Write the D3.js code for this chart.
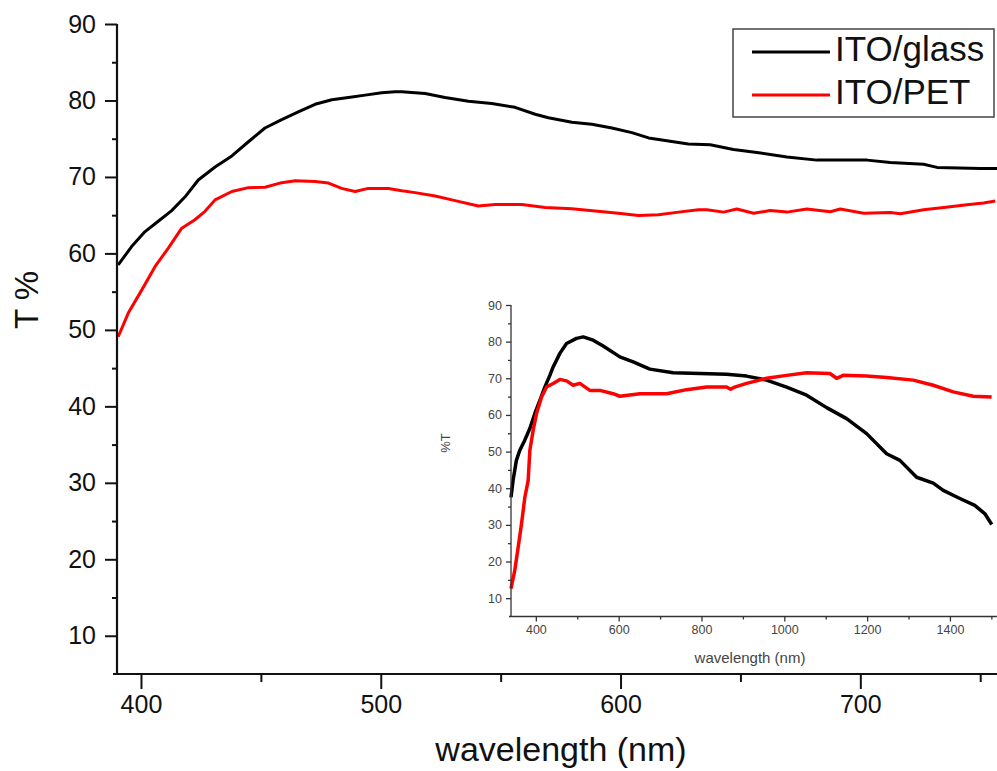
<!DOCTYPE html>
<html>
<head>
<meta charset="utf-8">
<script src="https://cdn.jsdelivr.net/npm/d3@7"></script>
<style>
  html, body { margin: 0; padding: 0; background: #fff; }
  svg { display: block; font-family: "Liberation Sans", Arial, sans-serif; }
</style>
</head>
<body>
<svg id="chart" width="997" height="771"></svg>
<script>
// ---------- Main chart data ----------
const seriesNames = ["ITO/glass", "ITO/PET"];
const seriesColors = ["#000000", "#ff0000"];

const glassWl = [390.5,396.1,401.7,407.2,412.8,418.4,423.9,430.9,437.9,444.8,451.7,458.7,465.6,472.6,479.6,486.5,493.5,500.4,506,508.8,518.5,526.8,536.6,546.3,556,564.4,569.9,579.7,588,596.4,604.7,611.7,620,628.3,637.4,647.1,656.9,669.4,681.9,702.8,712.5,726.4,732,750.1,757];
const glassT  = [58.5,60.9,62.85,64.2,65.6,67.4,69.6,71.3,72.75,74.6,76.4,77.5,78.5,79.5,80.1,80.4,80.7,81.0,81.15,81.15,80.9,80.4,79.9,79.6,79.1,78.2,77.75,77.15,76.9,76.4,75.8,75.1,74.7,74.3,74.2,73.6,73.2,72.6,72.2,72.2,71.9,71.65,71.25,71.1,71.1];

const petWl = [390.5,394.7,400.3,405.9,411.4,417,422.5,426.7,430.9,437.9,444.8,451.7,458.7,464.3,472.6,478.2,483.7,489.3,494.8,503.2,508.8,514.3,522.7,531,540.7,547.7,558.8,568.6,579.7,589.4,599.1,607.5,615.8,624.2,632.5,636,643,648.5,655.5,662.4,669.4,677.7,687.5,691.6,701.4,712.5,716.7,726.4,734.8,744.5,751.4,756.3];
const petT  = [49.1,52.2,55.2,58.3,60.7,63.3,64.4,65.5,67.0,68.1,68.6,68.65,69.25,69.5,69.4,69.2,68.5,68.1,68.5,68.5,68.2,67.95,67.5,66.9,66.2,66.4,66.4,66.0,65.85,65.55,65.25,64.95,65.05,65.4,65.7,65.7,65.4,65.8,65.25,65.6,65.4,65.8,65.45,65.8,65.25,65.35,65.2,65.7,66.0,66.35,66.6,66.85];

const mainXTicks = [400, 500, 600, 700];
const mainXMinor = [450, 550, 650, 750];
const mainYTicks = [10, 20, 30, 40, 50, 60, 70, 80, 90];
const mainYMinor = [15, 25, 35, 45, 55, 65, 75, 85];

// ---------- Inset data ----------
const inGlassWl = [340,345,353,361,373,385.5,397.6,409.7,421.7,433.8,441.8,458,474.1,498.3,514.3,538.4,562.6,602.9,635,675.4,731.6,796.1,860.6,908.9,957.2,1005.6,1053.9,1102.2,1150.5,1198.8,1247.1,1279.2,1319.6,1359.7,1383.8,1424,1460,1484,1501];
const inGlassT  = [37.5,42.1,47.6,50.3,53.05,56.3,60.4,64.0,67.6,70.8,73.1,76.8,79.5,80.9,81.3,80.4,78.8,75.85,74.5,72.5,71.5,71.3,71.1,70.6,69.5,67.6,65.4,62.0,59.0,54.9,49.4,47.6,43.0,41.4,39.4,37.2,35.3,33.1,30.1];

const inPetWl = [340,349,357.3,365.4,373.4,381.4,385.5,393.5,401.7,413.8,425.8,441.8,458,474.1,490.1,506.3,530.4,554.6,586.7,602.9,651.2,715.7,764,812.3,860.6,870,880,908.9,957.2,1005.6,1053.9,1110.1,1126.3,1142.3,1198.8,1247.1,1311.4,1359.7,1408,1456.3,1500.7];
const inPetT  = [12.6,17.5,23.9,30.3,37.5,42.1,50.3,55.8,60.4,64.9,67.6,68.6,69.7,69.3,68.1,68.6,66.7,66.7,65.8,65.1,65.8,65.8,66.9,67.6,67.6,67.0,67.6,68.6,70.0,70.8,71.5,71.3,70.0,70.8,70.6,70.2,69.5,68.1,66.3,65.1,64.9];

const inXTicks = [400, 600, 800, 1000, 1200, 1400];
const inXMinor = [500, 700, 900, 1100, 1300, 1500];
const inYTicks = [10, 20, 30, 40, 50, 60, 70, 80, 90];
const inYMinor = [15, 25, 35, 45, 55, 65, 75, 85];

const svg = d3.select("#chart");

// ---------- Main chart ----------
const x = d3.scaleLinear().domain([390, 757]).range([117, 997]);
const y = d3.scaleLinear().domain([5, 90]).range([674, 24]);

const gMain = svg.append("g");

// curves
const mainSeries = [
  { wl: glassWl, t: glassT, color: seriesColors[0] },
  { wl: petWl, t: petT, color: seriesColors[1] }
];
const line = d3.line().x(d => x(d[0])).y(d => y(d[1]));
mainSeries.forEach(s => {
  gMain.append("path")
    .datum(s.wl.map((w, i) => [w, s.t[i]]))
    .attr("d", line)
    .attr("fill", "none")
    .attr("stroke", s.color)
    .attr("stroke-width", 3)
    .attr("stroke-linejoin", "round");
});

// axes
const xAxis = d3.axisBottom(x).tickValues(mainXTicks).tickSize(15).tickPadding(6).tickFormat(d3.format("d"));
const gx = gMain.append("g").attr("transform", "translate(0,674)").call(xAxis);
gx.select(".domain").attr("d", "M113,0H997").attr("stroke-width", 2.2).attr("stroke", "#111");
gx.selectAll(".tick line").attr("stroke-width", 2).attr("stroke", "#111");
gx.selectAll(".tick text").attr("font-size", 25).attr("fill", "#111");
const gxm = gMain.append("g").attr("transform", "translate(0,674)")
  .call(d3.axisBottom(x).tickValues(mainXMinor).tickSize(8).tickFormat(""));
gxm.select(".domain").remove();
gxm.selectAll(".tick line").attr("stroke-width", 2).attr("stroke", "#111");

const yAxis = d3.axisLeft(y).tickValues(mainYTicks).tickSize(12).tickPadding(9).tickFormat(d3.format("d"));
const gy = gMain.append("g").attr("transform", "translate(117,0)").call(yAxis);
gy.select(".domain").attr("d", "M0,24V675").attr("stroke-width", 2.2).attr("stroke", "#111");
gy.selectAll(".tick line").attr("stroke-width", 2).attr("stroke", "#111");
gy.selectAll(".tick text").attr("font-size", 25).attr("fill", "#111");
const gym = gMain.append("g").attr("transform", "translate(117,0)")
  .call(d3.axisLeft(y).tickValues(mainYMinor).tickSize(5).tickFormat(""));
gym.select(".domain").remove();
gym.selectAll(".tick line").attr("stroke-width", 2).attr("stroke", "#111");

// axis titles
svg.append("text").attr("x", 561).attr("y", 761).attr("text-anchor", "middle")
  .attr("font-size", 34).attr("fill", "#111").text("wavelength (nm)");
svg.append("text").attr("transform", "translate(38,300) rotate(-90)").attr("text-anchor", "middle")
  .attr("font-size", 33).attr("fill", "#111").text("T %");

// legend
const lg = svg.append("g");
lg.append("rect").attr("x", 733).attr("y", 29).attr("width", 261).attr("height", 88)
  .attr("fill", "#fff").attr("stroke", "#444").attr("stroke-width", 1.5);
seriesNames.forEach((name, i) => {
  const ly = 52 + i * 43;
  lg.append("line").attr("x1", 752).attr("x2", 830).attr("y1", ly).attr("y2", ly)
    .attr("stroke", seriesColors[i]).attr("stroke-width", 3);
  lg.append("text").attr("x", 835).attr("y", ly + 9).attr("font-size", 35).attr("fill", "#111").text(name);
});

// ---------- Inset ----------
const xi = d3.scaleLinear().domain([340, 1504]).range([511, 993]);
const yi = d3.scaleLinear().domain([5, 90]).range([616.5, 305]);
const gIn = svg.append("g");
const lineIn = d3.line().x(d => xi(d[0])).y(d => yi(d[1]));
const insetSeries = [
  { wl: inGlassWl, t: inGlassT, color: seriesColors[0] },
  { wl: inPetWl, t: inPetT, color: seriesColors[1] }
];
insetSeries.forEach(s => {
  gIn.append("path")
    .datum(s.wl.map((w, i) => [w, s.t[i]]))
    .attr("d", lineIn)
    .attr("fill", "none")
    .attr("stroke", s.color)
    .attr("stroke-width", 3.5)
    .attr("stroke-linejoin", "round");
});

const gxi = gIn.append("g").attr("transform", "translate(0,616.5)")
  .call(d3.axisBottom(xi).tickValues(inXTicks).tickSize(5).tickPadding(4).tickFormat(d3.format("d")));
gxi.select(".domain").attr("d", "M509,0H997").attr("stroke-width", 1.3).attr("stroke", "#333");
gxi.selectAll(".tick line").attr("stroke", "#333").attr("stroke-width", 1.3);
gxi.selectAll(".tick text").attr("font-size", 12.5).attr("fill", "#444");
const gxim = gIn.append("g").attr("transform", "translate(0,616.5)")
  .call(d3.axisBottom(xi).tickValues(inXMinor).tickSize(3).tickFormat(""));
gxim.select(".domain").remove();
gxim.selectAll(".tick line").attr("stroke", "#333").attr("stroke-width", 1.3);

const gyi = gIn.append("g").attr("transform", "translate(511,0)")
  .call(d3.axisLeft(yi).tickValues(inYTicks).tickSize(5).tickPadding(4).tickFormat(d3.format("d")));
gyi.select(".domain").attr("d", "M0,305V617").attr("stroke-width", 1.3).attr("stroke", "#333");
gyi.selectAll(".tick line").attr("stroke", "#333").attr("stroke-width", 1.3);
gyi.selectAll(".tick text").attr("font-size", 12.5).attr("fill", "#444");
const gyim = gIn.append("g").attr("transform", "translate(511,0)")
  .call(d3.axisLeft(yi).tickValues(inYMinor).tickSize(3).tickFormat(""));
gyim.select(".domain").remove();
gyim.selectAll(".tick line").attr("stroke", "#333").attr("stroke-width", 1.3);

svg.append("text").attr("x", 750).attr("y", 663).attr("text-anchor", "middle")
  .attr("font-size", 15).attr("fill", "#444").text("wavelength (nm)");
svg.append("text").attr("transform", "translate(450,443) rotate(-90)").attr("text-anchor", "middle")
  .attr("font-size", 13).attr("fill", "#444").text("%T");
</script>
</body>
</html>
